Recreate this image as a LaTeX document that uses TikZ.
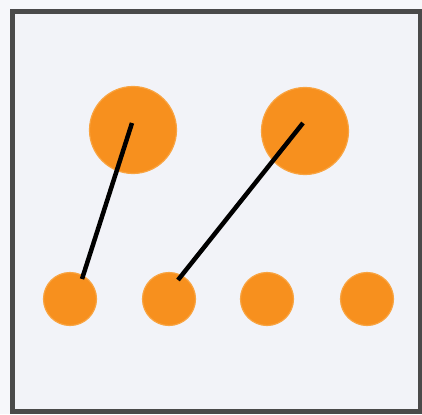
\documentclass[tikz,border=0pt]{standalone}
\begin{document}
\begin{tikzpicture}[x=1pt,y=-1pt,
  dot/.style={circle,fill=dotorange,draw=dotedge,line width=1.2pt,inner sep=0pt},
  bigdot/.style={dot,minimum size=87pt},
  smalldot/.style={dot,minimum size=53pt},
  link/.style={line width=4.5pt,black}]
\definecolor{dotorange}{HTML}{F7901E}
\definecolor{dotedge}{HTML}{F9A441}
\definecolor{bgout}{HTML}{F6F7FA}
\definecolor{bgin}{HTML}{F2F3F8}
\definecolor{frame}{HTML}{4A4A4A}
\useasboundingbox (0,0) rectangle (422,414);
\fill[bgout] (0,0) rectangle (422,414);
\draw[frame,line width=5pt,fill=bgin] (12,12) rectangle (420,411);
\node[bigdot] (b1) at (133,130) {};
\node[bigdot] (b2) at (305,131) {};
\node[smalldot] (s1) at (70,299) {};
\node[smalldot] (s2) at (169,299) {};
\node[smalldot] (s3) at (267,299) {};
\node[smalldot] (s4) at (367,299) {};
\coordinate (p1) at ([shift={(-1,-7)}]b1.center);
\coordinate (q1) at ([shift={(12,-20)}]s1.center);
\coordinate (p2) at ([shift={(-2,-8)}]b2.center);
\coordinate (q2) at ([shift={(9,-19)}]s2.center);
\draw[link] (p1) -- (q1);
\draw[link] (p2) -- (q2);
\end{tikzpicture}
\end{document}
